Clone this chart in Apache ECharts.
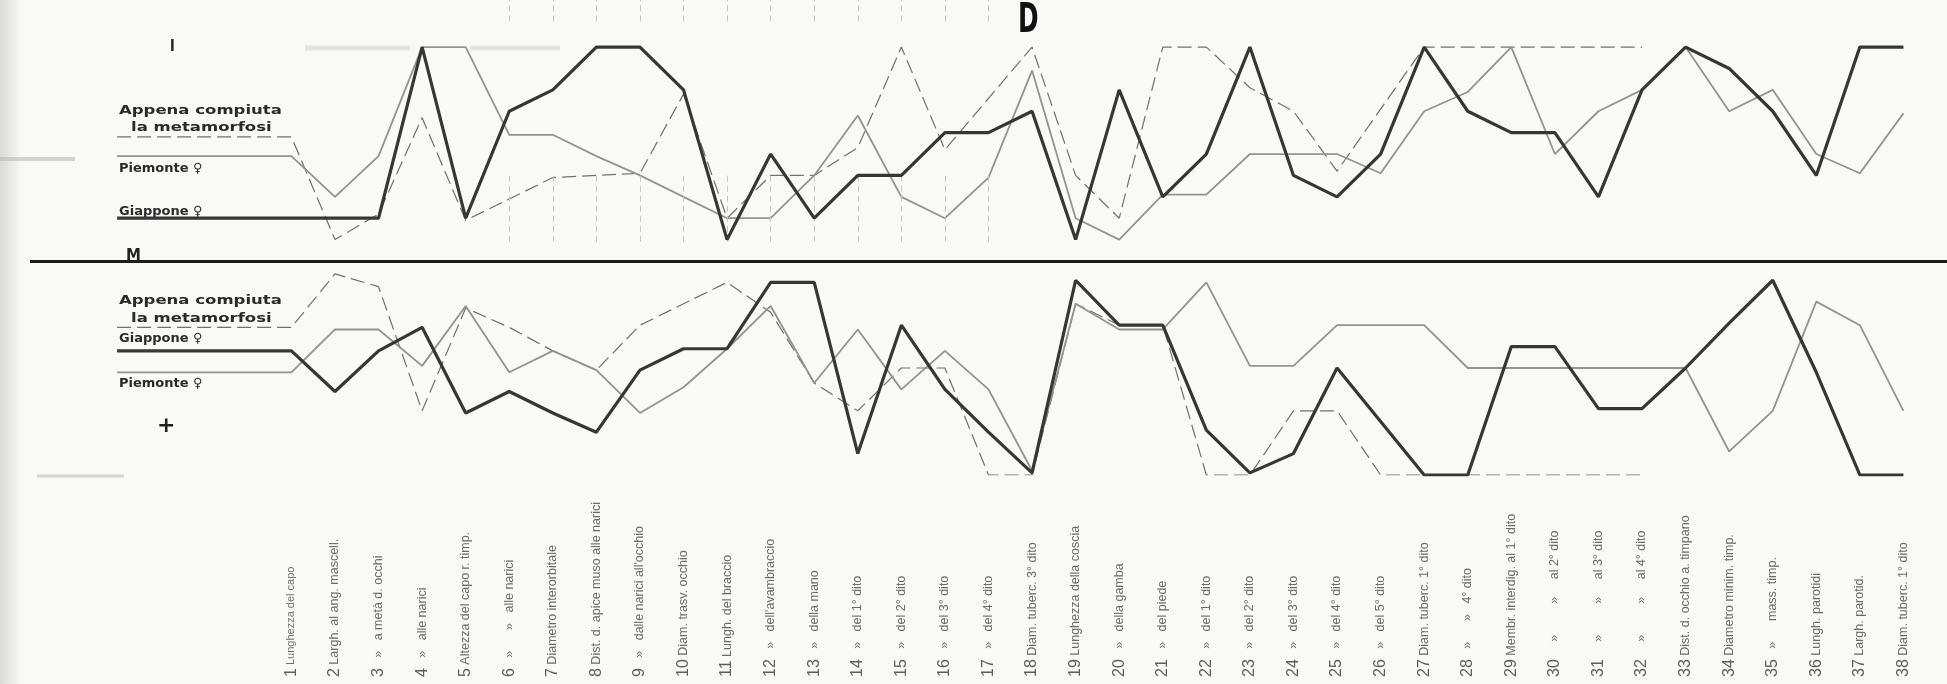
<!DOCTYPE html>
<html><head><meta charset="utf-8">
<script src="https://cdn.jsdelivr.net/npm/echarts@6/dist/echarts.min.js"></script>
<style>html,body{margin:0;padding:0;background:#f9f9f8;}#c{width:1947px;height:684px;}</style>
</head><body><div id="c"></div>
<script>
// ---- tick labels (x categories 1..38) ----
const tickLabels = [
"1 Lunghezza del capo",
"2 Largh. al ang. mascell.",
"3   »   a metà d. occhi",
"4   »   alle narici",
"5 Altezza del capo r. timp.",
"6   »      »   alle narici",
"7 Diametro interorbitale",
"8 Dist. d. apice muso alle narici",
"9   »   dalle narici all'occhio",
"10 Diam. trasv. occhio",
"11 Lungh. del braccio",
"12   »   dell'avambraccio",
"13   »   della mano",
"14   »   del 1° dito",
"15   »   del 2° dito",
"16   »   del 3° dito",
"17   »   del 4° dito",
"18 Diam. tuberc. 3° dito",
"19 Lunghezza della coscia",
"20   »   della gamba",
"21   »   del piede",
"22   »   del 1° dito",
"23   »   del 2° dito",
"24   »   del 3° dito",
"25   »   del 4° dito",
"26   »   del 5° dito",
"27 Diam. tuberc. 1° dito",
"28   »      »   4° dito",
"29 Membr. interdig. al 1° dito",
"30     »         »     al 2° dito",
"31     »         »     al 3° dito",
"32     »         »     al 4° dito",
"33 Dist. d. occhio a. timpano",
"34 Diametro minim. timp.",
"35   »      mass. timp.",
"36 Lungh. parotidi",
"37 Largh. parotid.",
"38 Diam. tuberc. 1° dito"
];
const smallLabels = [1];

// ---- upper panel (above M), values 0..10 ----
const topAppena   = [5.8,1.0,2.2,6.7,1.9,2.9,3.9,4.0,4.1,7.8,2.0,4.0,4.0,5.3,10,5.2,7.6,10,4.0,2.0,10,10,8.1,7.0,4.2,7.1,10,10,10,10,10,10,null,null,null,null,null,null];
const topPiemonte = [4.9,3.0,4.9,10,10,5.9,5.9,4.9,4.0,3.0,2.0,2.0,4.0,6.8,3.0,2.0,3.9,8.9,2.0,1.0,3.1,3.1,5.0,5.0,5.0,4.1,7.0,7.9,10,5.0,7.0,8.0,10,7.0,8.0,5.0,4.1,6.9];
const topGiappone = [2,2,2,10,2,7,8,10,10,8,1,5,2,4,4,6,6,7,1,8,3,5,10,4,3,5,10,7,6,6,3,8,10,9,7,4,10,10];

// ---- lower panel (below M), values 0..10 measured downward ----
const botAppena   = [3.1,0.6,1.2,7.0,2.2,3.1,4.2,5.1,3.0,2.0,1.0,2.4,5.7,7.0,5.0,5.0,10,10,2.0,3.0,3.0,10,10,7.0,7.0,10,10,10,10,10,10,10,null,null,null,null,null,null];
const botPiemonte = [5.2,3.2,3.2,4.9,2.1,5.2,4.2,5.1,7.1,5.9,4.1,2.1,5.7,3.2,6.0,4.2,6.0,9.8,2.0,3.2,3.2,1.0,4.9,4.9,3.0,3.0,3.0,5.0,5.0,5.0,5.0,5.0,5.0,8.9,7.0,1.9,3.0,7.0];
const botGiappone = [4.2,6.1,4.2,3.1,7.1,6.1,7.1,8.0,5.1,4.1,4.1,1.0,1.0,9.0,3.0,6.0,8.0,9.9,0.9,3.0,3.0,7.9,9.9,9.0,5.0,7.5,10,10,4.0,4.0,6.9,6.9,5.0,2.9,0.9,5.2,10,10];

// x where the legend lead lines begin, and the faint vertical guide categories
const leadStart = -3;
const guideCats = [6,7,8,9,10,11,12,13,14,15,16,17];

function build(vals){
  const d = [[leadStart, vals[0]]];
  vals.forEach((v,i)=>{ d.push([i+1, v]); });
  return d;
}

const chart = echarts.init(document.getElementById('c'), null, {renderer:'canvas'});
const G_COL = '#363636', P_COL = '#939393', A_COL = '#707070';

const guideLines = [];
guideCats.forEach(c=>{
  guideLines.push([{coord:[c,11.2]},{coord:[c,12.2]}]);
  guideLines.push([{coord:[c,0.9]},{coord:[c,4.1]}]);
});

const gridW = 44*43.6;
const legendFont = 'bold 13px "DejaVu Sans"';
const ghost = 'rgba(185,185,185,0.32)';
const option = {
  backgroundColor:'#f9f9f8',
  animation:false,
  grid:[
    {left:30, top:0, width:gridW, height:261},
    {left:30, top:261, width:gridW, height:214}
  ],
  xAxis:[
    {gridIndex:0, type:'value', min:-5, max:39, show:false},
    {gridIndex:1, type:'value', min:-5, max:39, show:false},
    {gridIndex:1, type:'value', min:-5, max:39, interval:1, position:'bottom', offset:200,
     axisLine:{show:false}, axisTick:{show:false}, splitLine:{show:false},
     axisLabel:{
       show:true, rotate:90, align:'left', verticalAlign:'middle', margin:2,
       showMinLabel:false, showMaxLabel:false,
       formatter:function(v){
         const i = Math.round(v);
         if (Math.abs(v-i)>1e-6 || i<1 || i>tickLabels.length) return '';
         const s = tickLabels[i-1];
         const k = s.indexOf(' ');
         const tk = smallLabels.indexOf(i) >= 0 ? 's' : 't';
         return '{n|'+s.slice(0,k)+'}{'+tk+'|'+s.slice(k)+'}';
       },
       rich:{
         n:{fontSize:16, color:'#5e5e5e', fontFamily:'Liberation Sans'},
         t:{fontSize:12.5, color:'#6a6a6a', fontFamily:'Liberation Sans'},
         s:{fontSize:11, color:'#707070', fontFamily:'Liberation Sans'}
       }
     }}
  ],
  yAxis:[
    {gridIndex:0, type:'value', min:0, max:12.2, show:false},
    {gridIndex:1, type:'value', min:0, max:10, inverse:true, show:false}
  ],
  series:[
    {type:'line', name:'guides', xAxisIndex:0, yAxisIndex:0, data:[], symbol:'none', silent:true,
     markLine:{silent:true, symbol:['none','none'], label:{show:false},
       lineStyle:{color:'#c6c6c6', width:1, type:[6,4]}, data:guideLines}},
    {type:'line', name:'Appena compiuta la metamorfosi', xAxisIndex:0, yAxisIndex:0, data:build(topAppena),
     symbol:'none', connectNulls:false, lineStyle:{color:A_COL, width:1.2, type:[14,6]}, z:3},
    {type:'line', name:'Piemonte ♀', xAxisIndex:0, yAxisIndex:0, data:build(topPiemonte),
     symbol:'none', lineStyle:{color:P_COL, width:1.8}, z:4},
    {type:'line', name:'Giappone ♀', xAxisIndex:0, yAxisIndex:0, data:build(topGiappone),
     symbol:'none', lineStyle:{color:G_COL, width:3.2}, z:5,
     markLine:{silent:true, symbol:['none','none'], label:{show:false},
       lineStyle:{color:'#1c1c1c', width:3, type:'solid'}, data:[{yAxis:0}]}},
    {type:'line', name:'Appena compiuta la metamorfosi (basso)', xAxisIndex:1, yAxisIndex:1, data:build(botAppena),
     symbol:'none', lineStyle:{color:A_COL, width:1.2, type:[14,6]}, z:3},
    {type:'line', name:'Piemonte ♀ (basso)', xAxisIndex:1, yAxisIndex:1, data:build(botPiemonte),
     symbol:'none', lineStyle:{color:P_COL, width:1.8}, z:4},
    {type:'line', name:'Giappone ♀ (basso)', xAxisIndex:1, yAxisIndex:1, data:build(botGiappone),
     symbol:'none', lineStyle:{color:G_COL, width:3.2}, z:5}
  ],
  graphic:[
    {type:'rect', left:0, top:0, z:-1, shape:{width:22, height:684},
     style:{fill:new echarts.graphic.LinearGradient(0,0,1,0,[{offset:0,color:'rgba(190,190,190,0.55)'},{offset:1,color:'rgba(190,190,190,0)'}])}},
    {type:'line', z:-1, shape:{x1:0, y1:159, x2:75, y2:159}, style:{stroke:'rgba(175,175,175,0.5)', lineWidth:4}},
    {type:'line', z:-1, shape:{x1:37, y1:476, x2:124, y2:476}, style:{stroke:'rgba(175,175,175,0.5)', lineWidth:3}},
    {type:'line', z:-1, shape:{x1:305, y1:48, x2:410, y2:48}, style:{stroke:ghost, lineWidth:5}},
    {type:'line', z:-1, shape:{x1:470, y1:48, x2:560, y2:48}, style:{stroke:ghost, lineWidth:5}},
    {type:'text', left:170, top:38, style:{text:'I', font:'bold 17px "Liberation Sans"', fill:'#222'}},
    {type:'text', left:1018, top:2, scaleX:0.62, style:{text:'D', font:'bold 40px "DejaVu Sans"', fill:'#111'}},
    {type:'text', left:126, top:249, style:{text:'M', font:'bold 15px "DejaVu Sans"', fill:'#222'}},
    {type:'text', left:157, top:415, style:{text:'+', font:'bold 22px "DejaVu Sans"', fill:'#222'}},
    {type:'text', left:119, top:104, scaleX:1.27, style:{text:'Appena compiuta', font:legendFont, fill:'#2a2a2a'}},
    {type:'text', left:131, top:121, scaleX:1.27, style:{text:'la metamorfosi', font:legendFont, fill:'#2a2a2a'}},
    {type:'text', left:119, top:162, style:{text:'Piemonte ♀', font:legendFont, fill:'#2a2a2a'}},
    {type:'text', left:119, top:205, style:{text:'Giappone ♀', font:legendFont, fill:'#2a2a2a'}},
    {type:'text', left:119, top:294, scaleX:1.27, style:{text:'Appena compiuta', font:legendFont, fill:'#2a2a2a'}},
    {type:'text', left:131, top:312, scaleX:1.27, style:{text:'la metamorfosi', font:legendFont, fill:'#2a2a2a'}},
    {type:'text', left:119, top:332, style:{text:'Giappone ♀', font:legendFont, fill:'#2a2a2a'}},
    {type:'text', left:119, top:377, style:{text:'Piemonte ♀', font:legendFont, fill:'#2a2a2a'}}
  ]
};
chart.setOption(option);
</script>
</body></html>
